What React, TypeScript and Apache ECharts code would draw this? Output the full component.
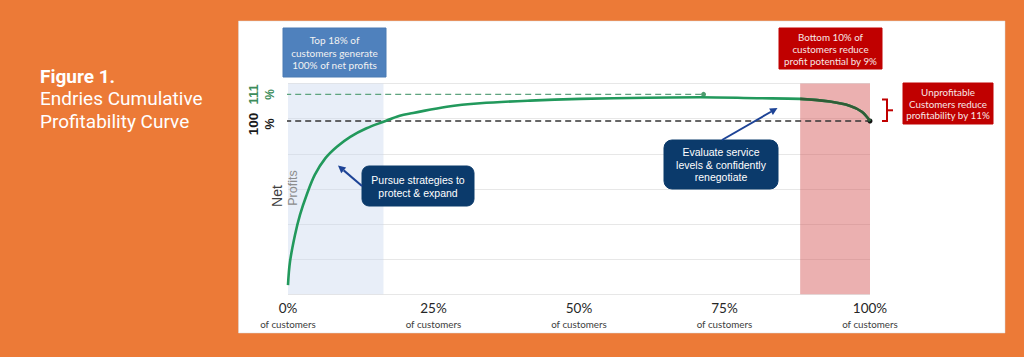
import React, { useEffect, useRef } from "react";
import * as echarts from "echarts";

// ---- data ----
const curveX = [0, 0.34, 1.2, 2.06, 3.2, 4.6, 6.4, 8.4, 10.7, 13.5, 16.4, 19.2, 21.5, 27.3, 33.0, 41.6, 50.2, 61.7, 70.8, 80.6, 88.0, 93.1, 96.6, 98.6, 100];
const curveY = [32.4, 42.0, 53.0, 61.3, 69.5, 77.8, 84.6, 89.4, 93.5, 97.0, 99.7, 102.2, 103.3, 105.9, 107.3, 108.4, 109.1, 109.6, 109.8, 109.4, 109.1, 108.0, 106.2, 103.8, 100];
const xTicks = [0, 25, 50, 75, 100];
const xTickLabels = ["0%", "25%", "50%", "75%", "100%"];
const baseLevel = 100; // 100% line
const peakLevel = 111; // 111% line
const peakLineEndX = 71.4;
const refStartX = -2.2;
const topBand = [0, 16.4]; // top customers band
const bottomBand = [88, 100]; // unprofitable customers band
const yMin = 28.6;
const yMax = 115.45;

const ORANGE = "#EC7A37";
const GREEN = "#22995C";
const DARKGREEN = "#2F5D36";
const NAVY = "#0B3A6B";
const ARROW = "#1D4396";
const RED = "#C00000";
const BOXFONT = "Lato";
const ARIAL = "Liberation Sans";

function arrow(x1: number, y1: number, x2: number, y2: number, color: string) {
  const dx = x2 - x1, dy = y2 - y1;
  const len = Math.sqrt(dx * dx + dy * dy);
  const ux = dx / len, uy = dy / len;
  const hl = 7.5, hw = 3.8;
  const bx = x2 - hl * ux, by = y2 - hl * uy;
  const nx = -uy, ny = ux;
  return [
    { type: "line", z: 20, shape: { x1, y1, x2: bx, y2: by }, style: { stroke: color, lineWidth: 2 } },
    {
      type: "polygon", z: 20,
      shape: { points: [[x2, y2], [bx + hw * nx, by + hw * ny], [bx - hw * nx, by - hw * ny]] },
      style: { fill: color },
    },
  ];
}

function box(x: number, y: number, w: number, h: number, fill: string, text: string, opts: any) {
  return [
    { type: "rect", z: 20, shape: { x, y, width: w, height: h, r: opts.r || 0 }, style: { fill, stroke: opts.stroke || fill, lineWidth: 1 } },
    {
      type: "text", z: 21, x: x + w / 2, y: y + h / 2 + (opts.dy || 0),
      style: {
        text, fill: opts.color || "#FFFFFF", fontSize: opts.fontSize, fontFamily: opts.fontFamily,
        lineHeight: opts.lineHeight, align: "center", verticalAlign: "middle",
      },
    },
  ];
}

export default function App() {
  const ref = useRef<HTMLDivElement>(null);
  useEffect(() => {
    if (!ref.current) return;
    const chart = echarts.init(ref.current, undefined, { renderer: "svg" });
    const curve = curveX.map((x, i) => [x, curveY[i]]);
    const curveTail = curve.filter((p) => p[0] >= bottomBand[0]);
    const option: any = {
      animation: false,
      backgroundColor: ORANGE,
      grid: { left: 288, right: 154, top: 83.5, bottom: 62.7, containLabel: false },
      xAxis: {
        type: "value", min: 0, max: 100, interval: 25,
        axisLine: { show: false }, axisTick: { show: false }, splitLine: { show: false },
        axisLabel: {
          margin: 6,
          formatter: (v: number) => {
            const i = xTicks.indexOf(v);
            return i < 0 ? "" : `{a|${xTickLabels[i]}}\n{b|of customers}`;
          },
          rich: {
            a: { fontSize: 13.5, fontFamily: BOXFONT, color: "#262626", lineHeight: 16, align: "center" },
            b: { fontSize: 9.8, fontFamily: BOXFONT, color: "#404040", lineHeight: 16, align: "center" },
          },
        },
      },
      yAxis: [
        {
          type: "value", min: yMin, max: yMax,
          axisLine: { show: false }, axisTick: { show: false }, axisLabel: { show: false }, splitLine: { show: false },
        },
        {
          type: "value", min: 0, max: 6, interval: 1,
          axisLine: { show: false }, axisTick: { show: false }, axisLabel: { show: false },
          splitLine: { show: true, lineStyle: { color: "#E7E7E7", width: 1 } },
        },
      ],
      series: [
        {
          type: "line", data: curve, smooth: 0.35, showSymbol: false, symbol: "none",
          lineStyle: { width: 2.6, color: GREEN }, itemStyle: { color: GREEN }, z: 5,
          markArea: {
            silent: true,
            data: [
              [{ xAxis: topBand[0], itemStyle: { color: "rgba(200,215,238,0.42)" } }, { xAxis: topBand[1] }],
              [{ xAxis: bottomBand[0], itemStyle: { color: "rgba(211,80,80,0.45)" } }, { xAxis: bottomBand[1] }],
            ],
          },
        },
        {
          type: "line", data: curveTail, smooth: 0.35, showSymbol: false, symbol: "none",
          lineStyle: { width: 2.6, color: DARKGREEN }, itemStyle: { color: DARKGREEN }, z: 6,
        },
        {
          type: "line", clip: false, z: 4, silent: true,
          data: [
            {
              value: [refStartX, peakLevel], symbolSize: 0.01,
              label: {
                show: true, position: "inside", rotate: 90, offset: [0, -13.5],
                formatter: "{n|111}\n{p|%}",
                rich: {
                  n: { fontSize: 13, fontWeight: "bold", fontFamily: ARIAL, color: "#3C8C5A", lineHeight: 16, align: "center" },
                  p: { fontSize: 12, fontWeight: "bold", fontFamily: ARIAL, color: "#3C8C5A", lineHeight: 16, align: "center" },
                },
              },
            },
            { value: [peakLineEndX, peakLevel], symbolSize: 5 },
          ],
          symbol: "circle",
          itemStyle: { color: "#4E9C6E" },
          lineStyle: { color: "#5EA47E", width: 1.3, type: [6, 4] },
        },
        {
          type: "line", clip: false, z: 4, silent: true,
          data: [
            {
              value: [refStartX, baseLevel], symbolSize: 0.01,
              label: {
                show: true, position: "inside", rotate: 90, offset: [-3, -13.5],
                formatter: "{n|100}\n{p|%}",
                rich: {
                  n: { fontSize: 13.5, fontWeight: "bold", fontFamily: ARIAL, color: "#1A1A1A", lineHeight: 16, align: "center" },
                  p: { fontSize: 12.5, fontWeight: "bold", fontFamily: ARIAL, color: "#1A1A1A", lineHeight: 16, align: "center" },
                },
              },
            },
            { value: [100, baseLevel], symbolSize: 5 },
          ],
          symbol: "circle",
          itemStyle: { color: "#111111" },
          lineStyle: { color: "#333333", width: 1.5, type: [6, 4] },
        },
      ],
      graphic: [
        { type: "rect", z: -10, shape: { x: 238.5, y: 21, width: 766.5, height: 312 }, style: { fill: "#FFFFFF", stroke: "#D9D9D9", lineWidth: 0.5 } },
        { type: "text", x: 40, y: 76.5, style: { text: "Figure 1.", fill: "#FFFFFF", fontSize: 19, fontWeight: "bold", fontFamily: "Roboto", verticalAlign: "middle", align: "left" } },
        { type: "text", x: 40, y: 98.5, style: { text: "Endries Cumulative", fill: "#FFFFFF", fontSize: 19, fontFamily: "Roboto", verticalAlign: "middle", align: "left" } },
        { type: "text", x: 40, y: 121, style: { text: "Profitability Curve", fill: "#FFFFFF", fontSize: 19, fontFamily: "Roboto", verticalAlign: "middle", align: "left" } },
        { type: "text", z: 10, x: 277, y: 196, rotation: Math.PI / 2, style: { text: "Net", fill: "#404040", fontSize: 14, fontFamily: ARIAL, align: "center", verticalAlign: "middle" } },
        { type: "text", z: 10, x: 293, y: 188, rotation: Math.PI / 2, style: { text: "Profits", fill: "#8C8C8C", fontSize: 12.5, fontFamily: ARIAL, align: "center", verticalAlign: "middle" } },
        ...box(283, 28, 103, 49, "#4F81BD", "Top 18% of\ncustomers generate\n100% of net profits", { fontSize: 10, fontFamily: BOXFONT, lineHeight: 12.5, stroke: "#4A7AB3", color: "#F2F2F2" }),
        ...box(779, 28, 103, 41, RED, "Bottom 10% of\ncustomers reduce\nprofit potential by 9%", { fontSize: 9.8, fontFamily: BOXFONT, lineHeight: 12, color: "#F7E6E6" }),
        ...box(903, 83, 90, 41, RED, "Unprofitable\nCustomers reduce\nprofitability by 11%", { fontSize: 9.8, fontFamily: BOXFONT, lineHeight: 11.5, color: "#F7E6E6" }),
        ...box(362, 166, 112, 40, NAVY, "Pursue strategies to\nprotect & expand", { fontSize: 10.5, fontFamily: ARIAL, lineHeight: 13, r: 7, color: "#FFFFFF" }),
        ...box(664, 140, 114, 49, NAVY, "Evaluate service\nlevels & confidently\nrenegotiate", { fontSize: 10.5, fontFamily: ARIAL, lineHeight: 12.5, r: 8, color: "#FFFFFF" }),
        ...arrow(362, 186, 338, 165.5, ARROW),
        ...arrow(722, 140, 777.5, 108, ARROW),
        {
          type: "polyline", z: 20,
          shape: { points: [[882, 99.5], [887, 99.5], [887, 121], [882, 121]] },
          style: { stroke: RED, lineWidth: 2, fill: "none" },
        },
        { type: "line", z: 20, shape: { x1: 887, y1: 110.3, x2: 893, y2: 110.3 }, style: { stroke: RED, lineWidth: 2 } },
      ],
    };
    chart.setOption(option);
    return () => chart.dispose();
  }, []);
  return <div ref={ref} style={{ position: "absolute", left: 0, top: 0, width: 1024, height: 357 }} />;
}
